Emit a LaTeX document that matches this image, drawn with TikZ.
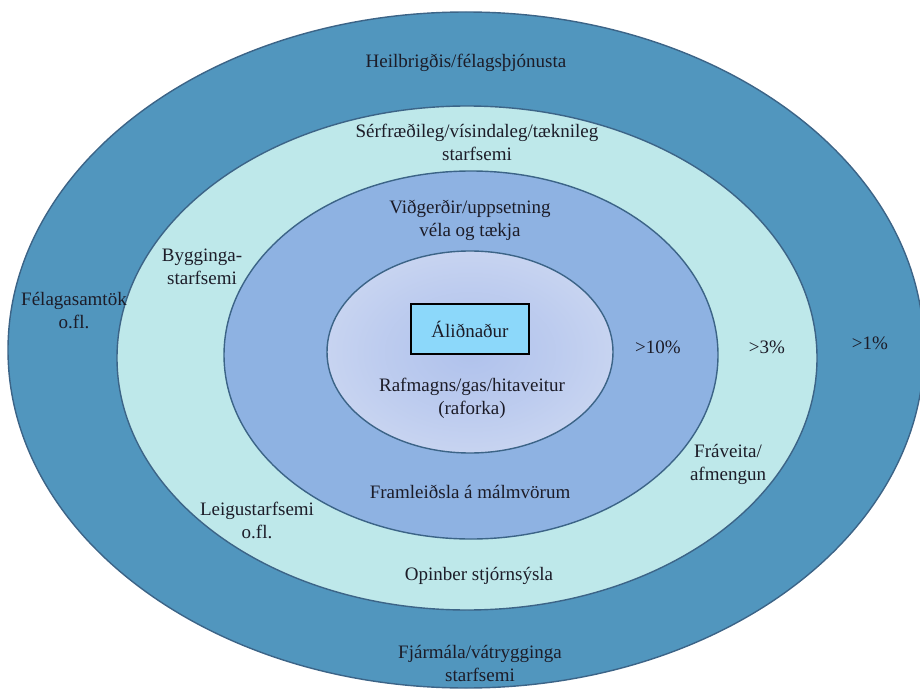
\documentclass[tikz,border=0pt]{standalone}
\usepackage{fontspec}
\setmainfont{Liberation Serif}
\usepackage{xcolor}
\usepackage{tikz}
\usetikzlibrary{shapes.geometric}

\definecolor{ringOut}{HTML}{5196BE}
\definecolor{ringMid}{HTML}{BEE8EA}
\definecolor{ringIn}{HTML}{8EB2E2}
\definecolor{coreMid}{HTML}{B0C2EC}
\definecolor{coreEdge}{HTML}{E2E8F6}
\definecolor{boxFill}{HTML}{8CD8FA}
\definecolor{ringLine}{HTML}{3C6487}
\definecolor{txt}{HTML}{1C1C28}
\pgfdeclareradialshading{coreglow}{\pgfpoint{0bp}{0bp}}{color(0bp)=(coreMid); color(15bp)=(coreMid!75!coreEdge); color(50bp)=(coreEdge)}

\begin{document}
\begin{tikzpicture}[
		x=1pt, y=-1pt,
		ring/.style={ellipse, draw=ringLine, line width=1.4pt, inner sep=0pt},
		lbl/.style={align=center, text=txt, font=\fontsize{19}{23}\selectfont, inner sep=1pt},
		corebox/.style={rectangle, draw=black, fill=boxFill, line width=2.4pt, minimum width=118, minimum height=50, text=txt, font=\fontsize{19}{23}\selectfont},
		]
		\useasboundingbox (0,0) rectangle (920,695);
		\clip (0,0) rectangle (920,695);

		%Rings
		\node[ring, fill=ringOut, minimum width=916, minimum height=676]	(outer)	at (466,350)	{};
		\node[ring, fill=ringMid, minimum width=700, minimum height=504]	(middle)	at (467,358)	{};
		\node[ring, fill=ringIn, minimum width=494, minimum height=368]	(inner)	at (471,355)	{};
		\node[ring, shading=coreglow, minimum width=286, minimum height=202]	(core)	at (470,352)	{};

		%Outer ring
		\node[lbl]	(health)	at (466,63)		{Heilbrigðis/félagsþjónusta};
		\node[lbl]	(assoc)		at (74,311)		{Félagasamtök\\o.fl.};
		\node[lbl]	(p1)		at (870,343)	{>1\%};
		\node[lbl]	(finance)	at (480,663)	{Fjármála/vátrygginga\\starfsemi};

		%Middle ring
		\node[lbl]	(science)	at (477,142)	{Sérfræðileg/vísindaleg/tæknileg\\starfsemi};
		\node[lbl]	(build)		at (202,267)	{Bygginga-\\starfsemi};
		\node[lbl]	(p3)		at (767,347)	{>3\%};
		\node[lbl]	(sewage)	at (728,464)	{Fráveita/\\afmengun};
		\node[lbl]	(rental)	at (257,520)	{Leigustarfsemi\\o.fl.};
		\node[lbl]	(public)	at (479,576)	{Opinber stjórnsýsla};

		%Inner ring
		\node[lbl]	(repair)	at (470,220)	{Viðgerðir/uppsetning\\véla og tækja};
		\node[lbl]	(p10)		at (658,347)	{>10\%};
		\node[lbl]	(metal)		at (470,492)	{Framleiðsla á málmvörum};

		%Core
		\node[corebox]	(alu)	at (470,329)	{Áliðnaður};
		\node[lbl]	(power)		at (472,398)	{Rafmagns/gas/hitaveitur\\(raforka)};
	\end{tikzpicture}
\end{document}
